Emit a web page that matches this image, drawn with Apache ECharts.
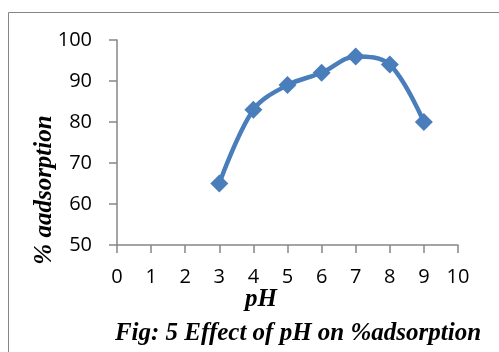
<!DOCTYPE html>
<html>
<head>
<meta charset="utf-8">
<script src="https://cdn.jsdelivr.net/npm/echarts@6/dist/echarts.min.js"></script>
<style>
  html, body { margin: 0; padding: 0; background: #fff; }
  #chart { width: 499px; height: 352px; }
</style>
</head>
<body>
<div id="chart"></div>
<script>
// pH values and measured adsorption percentages
const phValues = [3, 4, 5, 6, 7, 8, 9];
const adsorption = [65, 83, 89, 92, 96, 94, 80];
const xTicks = [0, 10, 1];   // min, max, step
const yTicks = [50, 100, 10];
const xName = 'pH';
const yName = '% aadsorption';
const caption = 'Fig: 5 Effect of pH on %adsorption';

const chart = echarts.init(document.getElementById('chart'));
const axisGray = '#868686';
const lineBlue = '#4A7EBB';
const labelFont = { fontFamily: 'Open Sans', fontSize: 20, color: '#000' };
const serifBold = { fontFamily: 'Liberation Serif', fontWeight: 'bold', fontStyle: 'italic', fontSize: 25, fill: '#000' };

chart.setOption({
  animation: false,
  grid: { left: 117, top: 40, right: 41, bottom: 107 },
  graphic: [
    // outer frame of the figure
    { type: 'rect', shape: { x: 8.5, y: 12.5, width: 600, height: 500 },
      style: { fill: null, stroke: axisGray, lineWidth: 1 }, z: -1 },
    // axis titles, placed off-centre as in the original layout
    { type: 'text', x: 261, y: 300,
      style: Object.assign({ text: xName, align: 'center', verticalAlign: 'middle' }, serifBold) },
    { type: 'text', x: 45, y: 190, rotation: Math.PI / 2,
      style: Object.assign({ text: yName, align: 'center', verticalAlign: 'middle' }, serifBold) },
    // figure caption
    { type: 'text', x: 298, y: 321,
      style: Object.assign({ text: caption, align: 'center', verticalAlign: 'top' }, serifBold) }
  ],
  xAxis: {
    type: 'value', min: xTicks[0], max: xTicks[1], interval: xTicks[2],
    axisLine: { lineStyle: { color: axisGray, width: 1.5 } },
    axisTick: { show: true, length: 8, lineStyle: { color: axisGray, width: 1.5 } },
    axisLabel: Object.assign({ margin: 22 }, labelFont),
    splitLine: { show: false }
  },
  yAxis: {
    type: 'value', min: yTicks[0], max: yTicks[1], interval: yTicks[2],
    axisLine: { show: true, lineStyle: { color: axisGray, width: 1.5 } },
    axisTick: { show: true, length: 8, lineStyle: { color: axisGray, width: 1.5 } },
    axisLabel: Object.assign({ margin: 25 }, labelFont),
    splitLine: { show: false }
  },
  series: [{
    type: 'line',
    data: phValues.map((p, i) => [p, adsorption[i]]),
    smooth: 0.35,
    symbol: 'diamond',
    symbolSize: 18,
    lineStyle: { color: lineBlue, width: 4.5 },
    itemStyle: { color: lineBlue }
  }]
});
</script>
</body>
</html>
